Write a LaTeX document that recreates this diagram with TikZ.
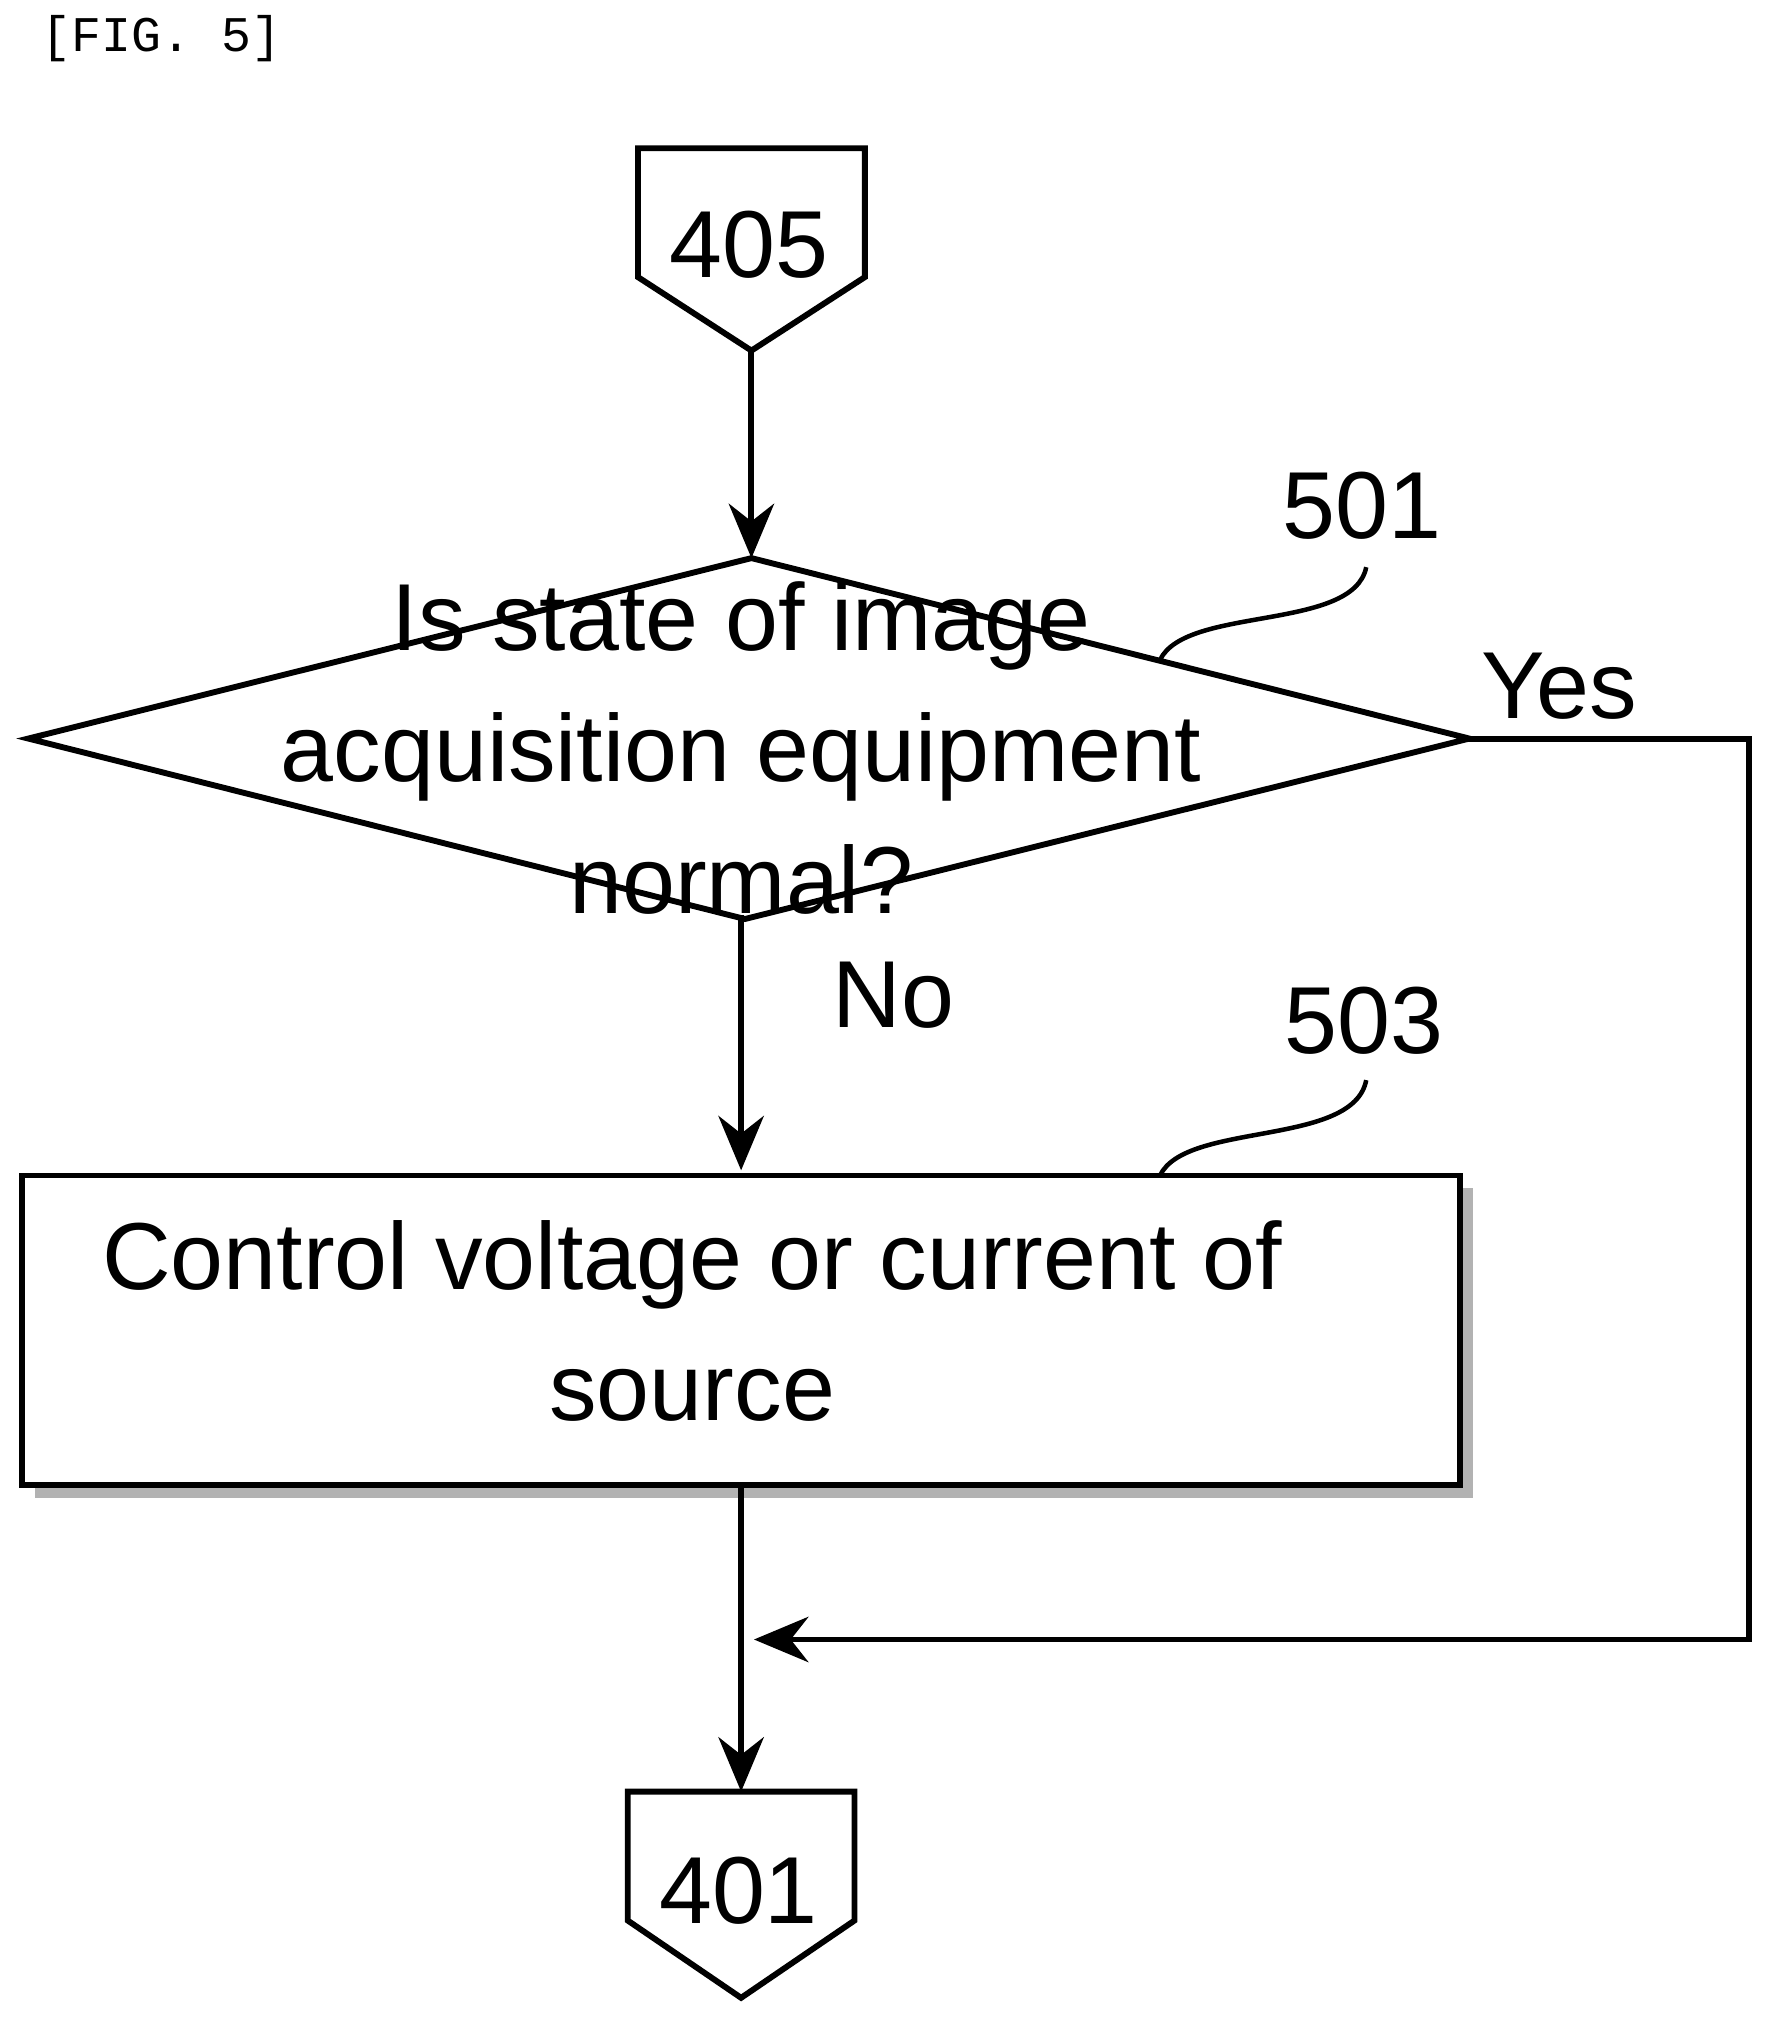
\documentclass[tikz,border=0pt]{standalone}
\usepackage{fontspec}
\setmainfont{Liberation Sans}
\setmonofont{Liberation Mono}
\usetikzlibrary{arrows.meta}
\begin{document}
\begin{tikzpicture}[x=0.01cm,y=-0.01cm,>=stealth]
    % styles
    \tikzset{txt/.style={font=\fontsize{21}{29}\selectfont,align=center,inner sep=0pt},
             flow/.style={line width=1.3pt},
             arr/.style={flow,->,>={Stealth[length=12pt,width=10pt]}}}
    \useasboundingbox (0,0) rectangle (1380,1568);

    \node[font=\ttfamily\fontsize{11}{13}\selectfont,anchor=west] (fig) at (20,30) {[FIG. 5]};

    % connector 405
    \draw[flow] (495,115) -- (671,115) -- (671,215) -- (583,272) -- (495,215) -- cycle;
    \node[txt] (c405) at (581,190) {405};
    \coordinate (c405b) at (583,272);

    % decision
    \draw[flow] (22,573) -- (583,433) -- (1140,573) -- (578,713) -- cycle;
    \coordinate (dtop) at (583,433);
    \coordinate (dright) at (1140,573);
    \coordinate (dbot) at (575,710);
    \node[txt] (q) at (575,580) {Is state of image\\acquisition equipment\\normal?};
    \node[txt] (l501) at (1057,392) {501};
    \draw[line width=1pt] (900,512) .. controls (920,470) and (1050,490) .. (1060,440);
    \node[txt] (yes) at (1210,532) {Yes};
    \node[txt] (no) at (693,772) {No};

    % process
    \fill[gray!60] (27,922) rectangle (1143,1162);
    \draw[flow,fill=white] (17,912) rectangle (1133,1152);
    \node[txt] (act) at (537,1025) {Control voltage or current of\\source};
    \coordinate (btop) at (575,908);
    \coordinate (bbot) at (575,1152);
    \node[txt] (l503) at (1058,792) {503};
    \draw[line width=1pt] (900,912) .. controls (920,870) and (1050,890) .. (1060,838);

    % connector 401
    \draw[flow] (487,1390) -- (663,1390) -- (663,1490) -- (575,1550) -- (487,1490) -- cycle;
    \node[txt] (c401) at (573,1467) {401};
    \coordinate (c401t) at (575,1390);
    \coordinate (join) at (585,1272);

    % edges
    \draw[arr] (c405b) -- (dtop);
    \draw[arr] (dbot) -- (btop);
    \draw[arr] (bbot) -- (c401t);
    \draw[arr] (dright) -- (1357,573) -- (1357,1272) -- (join);
\end{tikzpicture}
\end{document}
